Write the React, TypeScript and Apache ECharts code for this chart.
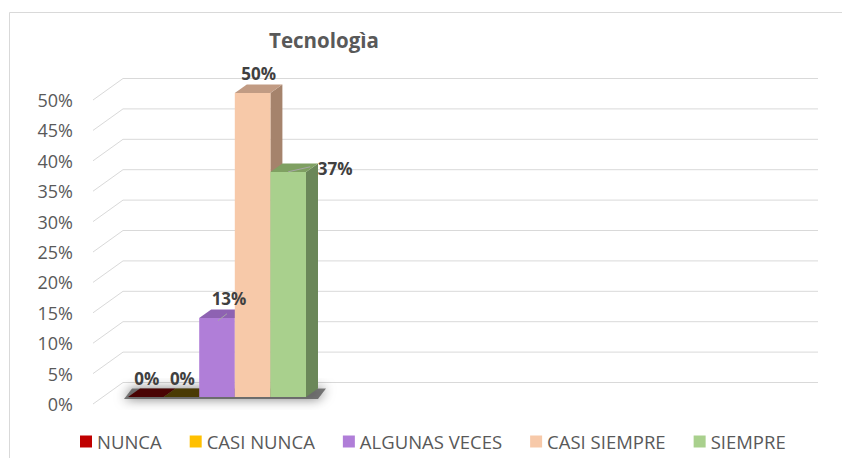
import React, { useEffect, useRef } from "react";
import * as echarts from "echarts";

const TITLE = "Tecnologìa";
const CATEGORIES = ["NUNCA", "CASI NUNCA", "ALGUNAS VECES", "CASI SIEMPRE", "SIEMPRE"];
const VALUES = [0, 0, 13, 50, 37];
const Y_TICKS = [0, 5, 10, 15, 20, 25, 30, 35, 40, 45, 50];

const FRONT_COLORS = ["#C00000", "#FFC000", "#B07ED8", "#F7C9A9", "#A9D08D"];
const TOP_COLORS = ["#4A0404", "#4A3A04", "#8E62B2", "#C19B83", "#7FA062"];
const SIDE_COLORS = ["#7A0000", "#7A5F00", "#7A5696", "#A5836C", "#6B8759"];
const LABEL_OFFSETS: number[][] = [[-5, -14], [-5, -14], [6, -15], [0, -15], [41, 1]];
const LEADERS: (number[][] | null)[] = [null, null, [[-5, 7], [4, 0]], null, [[-6, 4], [16, -1]]];

const DEPTH_X = 12;
const DEPTH_Y = -8.5;
const WALL_X = 30;
const WALL_Y = -21.5;
const FONT = '"Open Sans", "DejaVu Sans", sans-serif';

function barGeom(api: any) {
  const v = api.value(1);
  const xi = api.value(0);
  const base = api.coord([xi, 0]);
  const top = api.coord([xi, v]);
  const w = api.size([1, 0])[0];
  return { v, x0: base[0] - w / 2, x1: base[0] + w / 2, cx: base[0], yb: base[1], yt: top[1] };
}

function barRender(i: number) {
  return (params: any, api: any) => {
    const { v, x0, x1, yb, yt } = barGeom(api);
    const children: any[] = [];
    if (v > 0) {
      children.push({
        type: "polygon",
        shape: { points: [[x1, yt], [x1 + DEPTH_X, yt + DEPTH_Y], [x1 + DEPTH_X, yb + DEPTH_Y], [x1, yb]] },
        style: { fill: SIDE_COLORS[i] },
      });
      children.push({
        type: "rect",
        shape: { x: x0, y: yt, width: x1 - x0, height: yb - yt },
        style: { fill: FRONT_COLORS[i] },
      });
    }
    children.push({
      type: "polygon",
      shape: { points: [[x0, yt], [x1, yt], [x1 + DEPTH_X, yt + DEPTH_Y], [x0 + DEPTH_X, yt + DEPTH_Y]] },
      style: { fill: TOP_COLORS[i] },
    });
    return { type: "group", children };
  };
}

function labelRender(params: any, api: any) {
  const i = params.dataIndex;
  const { v, cx: bx, yt } = barGeom(api);
  const cx = bx + DEPTH_X / 2;
  const cy = yt + DEPTH_Y / 2;
  const children: any[] = [];
  const ld = LEADERS[i];
  if (ld) {
    children.push({
      type: "line",
      shape: { x1: cx + ld[0][0], y1: cy + ld[0][1], x2: cx + ld[1][0], y2: cy + ld[1][1] },
      style: { stroke: "#A6A6A6", lineWidth: 1 },
    });
  }
  children.push({
    type: "text",
    x: cx + LABEL_OFFSETS[i][0],
    y: cy + LABEL_OFFSETS[i][1],
    style: {
      text: Math.round(v) + "%",
      fill: "#404040",
      font: "bold 17px " + FONT,
      textAlign: "center",
      textVerticalAlign: "middle",
      align: "center",
      verticalAlign: "middle",
    },
  });
  return { type: "group", children };
}

export default function App() {
  const ref = useRef<HTMLDivElement>(null);
  useEffect(() => {
    if (!ref.current) return;
    const chart = echarts.init(ref.current, undefined, { renderer: "svg" });
    const lastIdx = CATEGORIES.length - 1;
    const series: any[] = [
      {
        type: "custom",
        silent: true,
        xAxisIndex: 0,
        yAxisIndex: 0,
        z: 1,
        clip: false,
        data: Y_TICKS.map((t) => [0, t]),
        renderItem: (params: any, api: any) => {
          const t = api.value(1);
          const p = api.coord([0, t]);
          const q = api.coord([1, t]);
          return {
            type: "polyline",
            shape: { points: [[p[0], p[1]], [p[0] + WALL_X, p[1] + WALL_Y], [q[0] + WALL_X, q[1] + WALL_Y]] },
            style: { stroke: "#D9D9D9", lineWidth: 1, fill: null },
          };
        },
      },
      {
        type: "custom",
        silent: true,
        xAxisIndex: 1,
        yAxisIndex: 1,
        z: 2,
        clip: false,
        data: [[0, 0]],
        renderItem: (params: any, api: any) => {
          const a = api.coord([0, 0]);
          const b = api.coord([lastIdx, 0]);
          const w = api.size([1, 0])[0];
          const xl = a[0] - w / 2;
          const xr = b[0] + w / 2;
          const yb = a[1];
          return {
            type: "polygon",
            shape: {
              points: [
                [xl - 4, yb + 2],
                [xr + DEPTH_X, yb + 2],
                [xr + DEPTH_X + 8, yb + DEPTH_Y],
                [xl + 4, yb + DEPTH_Y],
              ],
            },
            style: {
              fill: "rgba(80,80,80,0.75)",
              shadowBlur: 12,
              shadowColor: "rgba(0,0,0,0.7)",
            },
          };
        },
      },
    ];
    CATEGORIES.forEach((name, i) => {
      series.push({
        type: "custom",
        name,
        xAxisIndex: 1,
        yAxisIndex: 1,
        z: 3 + i,
        clip: false,
        itemStyle: { color: FRONT_COLORS[i] },
        encode: { x: 0, y: 1 },
        data: [[i, VALUES[i]]],
        renderItem: barRender(i),
      });
    });
    series.push({
      type: "custom",
      silent: true,
      xAxisIndex: 1,
      yAxisIndex: 1,
      z: 20,
      clip: false,
      encode: { x: 0, y: 1 },
      data: VALUES.map((v, i) => [i, v]),
      renderItem: labelRender,
    });

    chart.setOption({
      animation: false,
      backgroundColor: "#FFFFFF",
      graphic: [
        {
          type: "rect",
          silent: true,
          shape: { x: 9.5, y: 12.5, width: 900, height: 500 },
          style: { fill: "transparent", stroke: "#D9D9D9", lineWidth: 1 },
        },
        {
          type: "text",
          x: 324,
          y: 40,
          style: {
            text: TITLE,
            font: "bold 20.5px " + FONT,
            fill: "#595959",
            textAlign: "center",
            textVerticalAlign: "middle",
            align: "center",
            verticalAlign: "middle",
          },
        },
      ],
      legend: {
        data: CATEGORIES,
        left: 80,
        top: 432,
        padding: 0,
        icon: "rect",
        itemWidth: 12,
        itemHeight: 12,
        itemGap: 28,
        textStyle: { fontFamily: FONT, fontSize: 18.5, color: "#595959" },
        selectedMode: false,
      },
      grid: [
        { left: 93, top: 100, width: 695, height: 304 },
        { left: 128, top: 93, width: 178, height: 304 },
      ],
      xAxis: [
        { gridIndex: 0, type: "value", min: 0, max: 1, show: false },
        { gridIndex: 1, type: "category", data: CATEGORIES, show: false },
      ],
      yAxis: [
        {
          gridIndex: 0,
          type: "value",
          min: 0,
          max: 50,
          interval: 5,
          axisLine: { show: false },
          axisTick: { show: false },
          splitLine: { show: false },
          axisLabel: { formatter: "{value}%", margin: 20, color: "#595959", fontSize: 18, fontFamily: FONT },
        },
        { gridIndex: 1, type: "value", min: 0, max: 50, show: false },
      ],
      series,
    });
    return () => chart.dispose();
  }, []);
  return <div ref={ref} style={{ position: "absolute", left: 0, top: 0, width: 842, height: 458 }} />;
}
